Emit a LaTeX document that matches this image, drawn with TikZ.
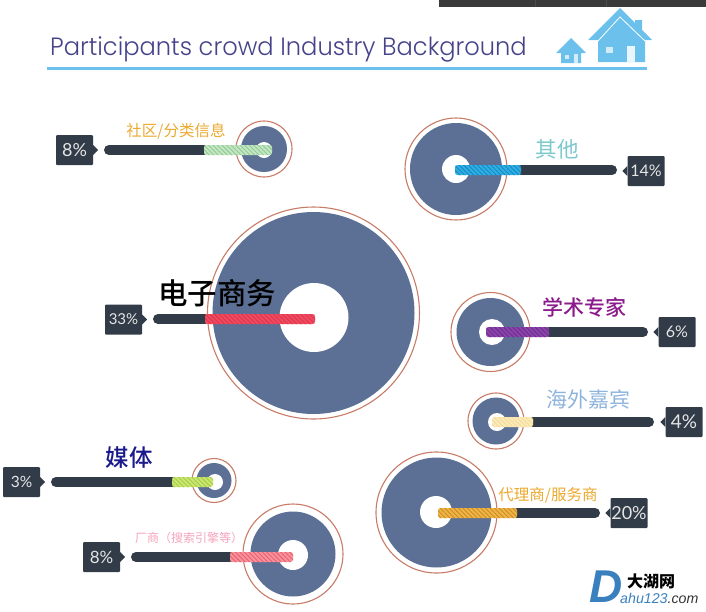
\documentclass[tikz,border=0pt]{standalone}
\usepackage{fontspec}
\setmainfont{Lato}
\newfontfamily\cjkFont{Noto Sans CJK SC}
\newfontfamily\cjkMedium{Noto Sans CJK SC Medium}
\newfontfamily\markFont[AutoFakeSlant=0.25]{Noto Sans CJK SC}
\newfontfamily\titleFont{Poppins Light}
\newfontfamily\logoFont{Liberation Sans}
\usetikzlibrary{patterns.meta,positioning}
\definecolor{DISCCOLOR}{HTML}{5C7096}
\definecolor{RINGCOLOR}{HTML}{C87C68}
\definecolor{BARCOLOR}{HTML}{323C48}
\definecolor{TITLECOLOR}{HTML}{45438A}
\definecolor{SKYCOLOR}{HTML}{6CC1EC}
\definecolor{STRIPCOLOR}{HTML}{3A3A3A}
\definecolor{LOGOCOLOR}{HTML}{3A80BE}
\definecolor{COMMUNITYCOLOR}{HTML}{C6E6C2}
\definecolor{COMMUNITYLINE}{HTML}{8CCB98}
\definecolor{OTHERCOLOR}{HTML}{2CB0E6}
\definecolor{OTHERLINE}{HTML}{1C86BE}
\definecolor{SHOPCOLOR}{HTML}{F4485F}
\definecolor{SHOPLINE}{HTML}{D43A50}
\definecolor{MEDIACOLOR}{HTML}{CBE86C}
\definecolor{MEDIALINE}{HTML}{A4C850}
\definecolor{VENDORCOLOR}{HTML}{F8929C}
\definecolor{VENDORLINE}{HTML}{E8606E}
\definecolor{SCHOLARCOLOR}{HTML}{8E42AC}
\definecolor{SCHOLARLINE}{HTML}{68308A}
\definecolor{GUESTCOLOR}{HTML}{FCEBB6}
\definecolor{GUESTLINE}{HTML}{F4DAA0}
\definecolor{AGENTCOLOR}{HTML}{F0B544}
\definecolor{AGENTLINE}{HTML}{C88C2A}
\definecolor{LABELPINK}{HTML}{F5A3BC}
\definecolor{LABELTEAL}{HTML}{7CC8CC}
\definecolor{LABELORANGE}{HTML}{EBA92E}
\definecolor{LABELPURPLE}{HTML}{8B1A8B}
\definecolor{LABELBLUE}{HTML}{8FB4DC}
\definecolor{LABELNAVY}{HTML}{1A1A8C}
\tikzset{
  ring-style/.style = {
    circle, draw=RINGCOLOR, line width=1.1pt, inner sep=0pt, fill=white
  },
  disc-style/.style = {
    circle, fill=DISCCOLOR, inner sep=0pt
  },
  hole-style/.style = {
    circle, fill=white, inner sep=0pt
  },
  bar-style/.style = {
    draw=BARCOLOR, line width=10pt, line cap=round
  },
  tag-style/.style = {
    rectangle, rounded corners=1pt, fill=BARCOLOR, text=white!90!black,
    minimum width=37pt, minimum height=30pt, inner sep=0pt,
    font=\fontsize{#1}{#1}\selectfont
  },
  label-style/.style = {
    inner sep=0pt, font=\cjkFont\fontsize{#1}{#1}\selectfont
  },
  strong-style/.style = {
    inner sep=0pt, font=\cjkMedium\fontsize{#1}{#1}\selectfont
  },
  house-style/.style = {
    fill=SKYCOLOR
  }
}
\def\createDonut name:#1 at:#2 inner:#3 ring:#4 disc:#5 hole:#6;{
  \node [ring-style, minimum size=#4*2pt] (#1Ring) at #2 {};
  \node [disc-style, minimum size=#5*2pt] (#1Disc) at #2 {};
  \node [hole-style, minimum size=#6*2pt] (#1Hole) at #3 {};
}
\def\createBar name:#1 free:#2 split:#3 tip:#4 y:#5 color:#6;{
  \coordinate (#1Free) at (#2,#5);
  \coordinate (#1Split) at (#3,#5);
  \coordinate (#1Tip) at (#4,#5);
  \draw [bar-style] (#1Free) -- (#1Split);
  \path [fill=#6COLOR, rounded corners=2.5pt] ([yshift=5pt]#1Split) rectangle ([yshift=-5pt]#1Tip);
  \path [rounded corners=2.5pt, pattern={Lines[angle=-45,distance=3.2pt,line width=0.9pt]}, pattern color=#6LINE]
    ([yshift=5pt]#1Split) rectangle ([yshift=-5pt]#1Tip);
}
\def\createTag name:#1 display:#2 size:#3 at:#4 side:#5 point:#6;{
  \node [tag-style=#3] (#1Tag) at #4 {#2};
  \fill [BARCOLOR] ([yshift=5pt]#1Tag.#5) -- ([xshift=#6pt]#1Tag.#5) -- ([yshift=-5pt]#1Tag.#5) -- cycle;
}
\begin{document}
\begin{tikzpicture}[x=1pt,y=-1pt]
  \useasboundingbox (0,0) rectangle (706,611);

  % window strip
  \fill [STRIPCOLOR] (439,0) rectangle (706,7);
  \draw [black!70, line width=0.4pt] (535,0) -- (535,7) (606,0) -- (606,7);

  % title
  \node [anchor=base west, inner sep=0pt, xscale=0.966, text=TITLECOLOR, font=\titleFont\fontsize{25}{25}\selectfont] (title) at (50,55) {Participants crowd Industry Background};
  \fill [SKYCOLOR] (47,66.5) rectangle (647,70);

  % houses
  \fill [house-style] (620,8) -- (635,23) -- (635,20) -- (642,20) -- (642,30) -- (652,40) -- (645,40) -- (645,62) -- (598,62) -- (598,40) -- (588,40) -- cycle;
  \draw [white, line width=0.8pt] (598,41) -- (620,17) -- (645,41);
  \fill [white!70!SKYCOLOR] (606,47) rectangle (613,53);
  \fill [white!85!SKYCOLOR] (627,46) rectangle (635,62);
  \fill [house-style] (571,38) -- (586,53) -- (581,53) -- (581,63) -- (561,63) -- (561,53) -- (556,53) -- cycle;
  \fill [white!70!SKYCOLOR] (565,55) rectangle (569,59);
  \fill [white!70!SKYCOLOR] (574,54) rectangle (578,63);

  % donuts
  \createDonut name:community at:{(264,149)} inner:{(264,150)} ring:28 disc:23 hole:8;
  \createDonut name:other at:{(456,169)} inner:{(456,169)} ring:51 disc:46 hole:14;
  \createDonut name:shop at:{(313.5,313)} inner:{(314,317.5)} ring:106 disc:101 hole:34.5;
  \createDonut name:scholar at:{(490.5,332)} inner:{(492,332)} ring:39.5 disc:34 hole:13;
  \createDonut name:guest at:{(496,421)} inner:{(497,422)} ring:28 disc:23.5 hole:9;
  \createDonut name:media at:{(214,480.5)} inner:{(215,482)} ring:22 disc:17.5 hole:8;
  \createDonut name:agent at:{(436.5,512.5)} inner:{(436,512)} ring:60.5 disc:55 hole:16;
  \createDonut name:vendor at:{(293,554)} inner:{(293,555)} ring:50 disc:42.5 hole:15;

  % bars
  \createBar name:community free:109 split:204 tip:272 y:150 color:COMMUNITY;
  \createBar name:other free:612 split:521 tip:455 y:170 color:OTHER;
  \createBar name:shop free:158 split:205 tip:315 y:319 color:SHOP;
  \createBar name:scholar free:643 split:549 tip:486 y:332 color:SCHOLAR;
  \createBar name:guest free:649 split:533 tip:492 y:422 color:GUEST;
  \createBar name:media free:56 split:172 tip:213 y:482 color:MEDIA;
  \createBar name:agent free:595 split:517 tip:438 y:513 color:AGENT;
  \createBar name:vendor free:136 split:230 tip:293 y:557 color:VENDOR;

  % tags
  \createTag name:community display:{8\%} size:18 at:{(74.5,150)} side:east point:5;
  \createTag name:other display:{14\%} size:16 at:{(646,171)} side:west point:-5;
  \createTag name:shop display:{33\%} size:15 at:{(123.5,319.5)} side:east point:5;
  \createTag name:scholar display:{6\%} size:16 at:{(677,332)} side:west point:-5;
  \createTag name:guest display:{4\%} size:19 at:{(684,422)} side:west point:-5;
  \createTag name:media display:{3\%} size:15.5 at:{(21.5,482)} side:east point:5;
  \createTag name:agent display:{20\%} size:18 at:{(629,513)} side:west point:-5;
  \createTag name:vendor display:{8\%} size:17 at:{(101.5,557)} side:east point:5;

  % labels
  \node [label-style=15.5, text=LABELORANGE] (communityLabel) at (176,131.5) {社区/分类信息};
  \node [label-style=21.5, text=LABELTEAL] (otherLabel) at (557,149) {其他};
  \node [strong-style=29.5, text=black] (shopLabel) at (217,293) {电子商务};
  \node [strong-style=21, text=LABELPURPLE] (scholarLabel) at (584,307) {学术专家};
  \node [label-style=21, text=LABELBLUE] (guestLabel) at (588,399) {海外嘉宾};
  \node [strong-style=23.5, text=LABELNAVY] (mediaLabel) at (129,458) {媒体};
  \node [label-style=15.5, text=LABELORANGE] (agentLabel) at (548,495) {代理商/服务商};
  \node [label-style=12, text=LABELPINK] (vendorLabel) at (189,538) {厂商（搜索引擎等）};

  % logo
  \node [inner sep=0pt, text=LOGOCOLOR, font=\logoFont\bfseries\itshape\fontsize{46}{46}\selectfont] (logoD) at (606,587) {D};
  \node [anchor=base west, inner sep=0pt, font=\markFont\bfseries\itshape\fontsize{16}{16}\selectfont] (logoName) at (627,587) {大湖网};
  \node [anchor=base west, inner sep=0pt, font=\logoFont\itshape\fontsize{14.2}{14.2}\selectfont] (logoUrl) at (620,603) {\textcolor{LOGOCOLOR}{ahu123}\textcolor{black!80}{.com}};
\end{tikzpicture}
\end{document}
